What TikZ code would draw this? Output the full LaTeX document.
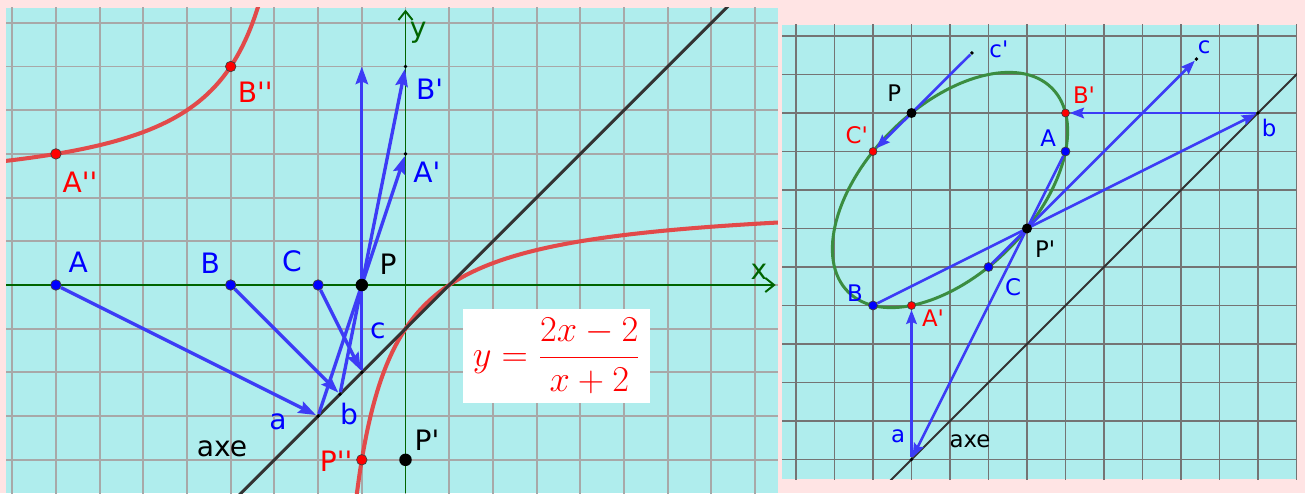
\documentclass[tikz,border=0pt]{standalone}
\usepackage[no-math]{fontspec}
\newfontfamily\ggbfont{DejaVu Sans}
\usepackage{xcolor}
\definecolor{paper}{HTML}{FFE4E4}
\definecolor{sheet}{HTML}{AFEDED}
\definecolor{gridlight}{HTML}{A8A8A8}
\definecolor{griddark}{HTML}{747474}
\definecolor{axisgreen}{HTML}{006400}
\definecolor{vecblue}{HTML}{3C3CF6}
\definecolor{hypred}{HTML}{E24A4A}
\definecolor{conicgreen}{HTML}{3B8D40}
\definecolor{axegray}{HTML}{333333}
\usepackage{tikz}
\usetikzlibrary{arrows.meta}
\pgfdeclarelayer{sheetlayer}
\pgfdeclarelayer{inklayer}
\pgfsetlayers{sheetlayer,inklayer,main}

\begin{document}
\begin{tikzpicture}[
  bpt/.style={circle, draw=black!75, line width=0.4pt, fill=blue, inner sep=0pt, minimum size=0.21cm},
  rpt/.style={bpt, fill=red},
  kpt/.style={circle, fill=black, inner sep=0pt, minimum size=0.25cm},
  dot/.style={circle, fill=black, inner sep=0pt, minimum size=2.2pt},
  lbl/.style={inner sep=0pt, font=\ggbfont\fontsize{16}{18}\selectfont},
  slbl/.style={inner sep=0pt, font=\ggbfont\fontsize{13}{15}\selectfont},
  vec/.style={vecblue, line width=1.9pt, -{Stealth[length=10pt, width=7pt, inset=1.5pt]}},
  svec/.style={vecblue, line width=1.5pt, -{Stealth[length=8pt, width=6pt, inset=1.2pt]}},
  axis/.style={axisgreen, line width=1.1pt, -{Straight Barb[length=5pt, width=8pt]}}
]
  \begin{pgfonlayer}{sheetlayer}
    \fill[paper] (0,0) rectangle (26.1,9.86);
  \end{pgfonlayer}
  \useasboundingbox (0,0) rectangle (26.1,9.86);

  % left panel
  \begin{scope}[shift={(8.11,4.16)}, x=0.874cm, y=0.874cm]
    \begin{pgfonlayer}{sheetlayer}
      \fill[sheet] (-9.14,-4.76) rectangle (8.52,6.34);
      \begin{scope}
        \clip (-9.14,-4.76) rectangle (8.52,6.34);
        \draw[gridlight, line width=1.1pt, step=1] (-10,-5) grid (9,7);
        \draw[axis] (-9.14,0) -- (8.47,0);
        \draw[axis] (0,-4.76) -- (0,6.30);
        \draw[hypred, line width=2.3pt, smooth, samples=90, domain=-9.3:-3.3]
          plot (\x,{(2*\x-2)/(\x+2)});
        \draw[hypred, line width=2.3pt, smooth, samples=120, domain=-1.13:8.7]
          plot (\x,{(2*\x-2)/(\x+2)});
        \draw[axegray, line width=1.7pt] (-4,-5) -- (7.6,6.6);
      \end{scope}
    \end{pgfonlayer}

    \node[bpt] (A) at (-8,0) {};
    \node[bpt] (B) at (-4,0) {};
    \node[bpt] (C) at (-2,0) {};
    \node[kpt] (P) at (-1,0) {};
    \node[dot] (a) at (-2,-3) {};
    \node[dot] (b) at (-1.5,-2.5) {};
    \node[dot] (c) at (-1,-2) {};
    \node[dot] (Ap) at (0,3) {};
    \node[dot] (Bp) at (0,5) {};
    \coordinate (Cp) at (-1,5);
    \node[rpt] (App) at (-8,3) {};
    \node[rpt] (Bpp) at (-4,5) {};
    \node[rpt] (Ppp) at (-1,-4) {};
    \node[kpt] (Pp) at (0,-4) {};

    \node[lbl, blue] (tA) at (-7.49,0.53) {A};
    \node[lbl, blue] (tB) at (-4.47,0.50) {B};
    \node[lbl, blue] (tC) at (-2.60,0.55) {C};
    \node[lbl] (tP) at (-0.40,0.48) {P};
    \node[lbl, blue] (tc) at (-0.63,-1.05) {c};
    \node[lbl, blue] (ta) at (-2.92,-3.14) {a};
    \node[lbl, blue] (tb) at (-1.29,-2.96) {b};
    \node[lbl] (taxe) at (-4.20,-3.75) {axe};
    \node[lbl, red] (tPpp) at (-1.59,-4.03) {P''};
    \node[lbl] (tPp) at (0.49,-3.55) {P'};
    \node[lbl, blue] (tAp) at (0.49,2.58) {A'};
    \node[lbl, blue] (tBp) at (0.55,4.49) {B'};
    \node[lbl, red] (tApp) at (-7.45,2.36) {A''};
    \node[lbl, red] (tBpp) at (-3.44,4.41) {B''};
    \node[lbl, axisgreen] (tx) at (8.09,0.30) {x};
    \node[lbl, axisgreen] (ty) at (0.29,5.77) {y};

    \node[fill=white, minimum width=3.74cm, minimum height=1.88cm, text=red,
          font=\fontsize{20}{24}\selectfont] (eq) at (3.46,-1.62)
          {$\displaystyle y=\frac{2x-2}{x+2}$};

    \begin{pgfonlayer}{inklayer}
      \draw[vec] (A) -- (a);
      \draw[vec] (B) -- (b);
      \draw[vec] (C) -- (c);
      \draw[vec] (a) -- (Ap);
      \draw[vec] (b) -- (Bp);
      \draw[vec] (c) -- (Cp);
    \end{pgfonlayer}
  \end{scope}

  % right panel
  \begin{scope}[shift={(20.54,5.29)}, x=0.77cm, y=0.77cm]
    \begin{pgfonlayer}{sheetlayer}
      \fill[sheet] (-6.36,-6.51) rectangle (7.01,5.29);
      \begin{scope}
        \clip (-6.36,-6.51) rectangle (7.01,5.29);
        \draw[griddark, line width=0.75pt, step=1] (-7,-7) grid (8,6);
        \draw[axegray, line width=1.1pt] (-4,-7) -- (8,5);
        \draw[conicgreen, line width=1.7pt, rotate around={45:(-2,1)}]
          (-2,1) ellipse [x radius=3.742, y radius=2.160];
      \end{scope}
    \end{pgfonlayer}

    \node[kpt, minimum size=0.2cm] (rP) at (-3,3) {};
    \node[rpt, minimum size=0.16cm] (rCp) at (-4,2) {};
    \node[dot] (rcp) at (-1.43,4.56) {};
    \node[rpt, minimum size=0.16cm] (rBp) at (1,3) {};
    \node[bpt, minimum size=0.18cm] (rA) at (1,2) {};
    \node[dot] (rc) at (4.4,4.4) {};
    \node[dot] (rb) at (6,3) {};
    \node[kpt, minimum size=0.2cm] (rPp) at (0,0) {};
    \node[bpt, minimum size=0.18cm] (rC) at (-1,-1) {};
    \node[bpt, minimum size=0.18cm] (rB) at (-4,-2) {};
    \node[rpt, minimum size=0.16cm] (rAp) at (-3,-2) {};
    \node[dot] (ra) at (-3,-6) {};

    \node[slbl] (trP) at (-3.45,3.52) {P};
    \node[slbl, blue] (trcp) at (-0.73,4.66) {c'};
    \node[slbl, red] (trCp) at (-4.42,2.43) {C'};
    \node[slbl, red] (trBp) at (1.48,3.47) {B'};
    \node[slbl, blue] (trA) at (0.55,2.35) {A};
    \node[slbl, blue] (trc) at (4.60,4.71) {c};
    \node[slbl, blue] (trb) at (6.29,2.61) {b};
    \node[slbl] (trPp) at (0.47,-0.53) {P'};
    \node[slbl, blue] (trC) at (-0.36,-1.52) {C};
    \node[slbl, blue] (trB) at (-4.47,-1.68) {B};
    \node[slbl, red] (trAp) at (-2.44,-2.32) {A'};
    \node[slbl, blue] (tra) at (-3.35,-5.39) {a};
    \node[slbl] (traxe) at (-1.48,-5.52) {axe};

    \begin{pgfonlayer}{inklayer}
      \draw[svec] (rA) -- (ra);
      \draw[svec] (rB) -- (rb);
      \draw[svec] (rC) -- (rc);
      \draw[svec] (ra) -- (rAp);
      \draw[svec] (rb) -- (rBp);
      \draw[svec] (rcp) -- (rCp);
    \end{pgfonlayer}
  \end{scope}
\end{tikzpicture}
\end{document}
